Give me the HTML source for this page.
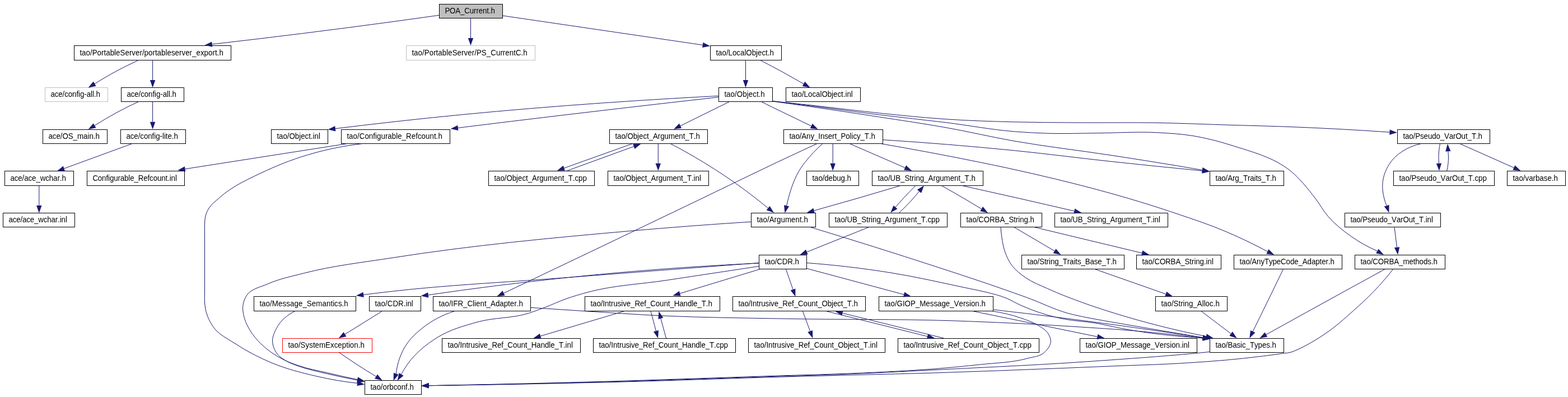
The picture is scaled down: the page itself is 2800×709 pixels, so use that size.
<!DOCTYPE html>
<html><head><meta charset="utf-8"><title>POA_Current.h include graph</title>
<style>html,body{margin:0;padding:0;background:#fff}svg{display:block}text{font-family:"Liberation Sans",sans-serif;font-size:13.33px;fill:#000}.n,.g,.r,.o{shape-rendering:crispEdges}.e{fill:none;stroke:#191970;stroke-width:1}.a{fill:#191970;stroke:none}.n{fill:#fff;stroke:#000;stroke-width:1}.g{fill:#fff;stroke:#bfbfbf;stroke-width:1}.r{fill:#fff;stroke:#f00;stroke-width:1}.o{fill:#bfbfbf;stroke:#000;stroke-width:1}</style></head><body>
<svg width="2800" height="709" viewBox="0 0 2800 709" style="will-change:transform">
<rect width="2800" height="709" fill="#fff"/>
<rect class="o" x="784.5" y="7.5" width="113.0" height="25.0"/>
<text transform="matrix(1 0 0 1.08 0 24)" x="794.4 803.1 813.3 822 829.3 838.7 846 850.4 854.7 862 869.3 872.9 876.5">POA_Current.h</text>
<rect class="n" x="132.5" y="81.5" width="280.0" height="26.0"/>
<text transform="matrix(1 0 0 1.08 0 99)" x="142.4 146.1 153.6 161 164.7 173.6 181.1 185.5 189.2 196.7 204.1 207.1 214.5 223.4 230.9 235.3 242 249.4 253.9 257.6 265 272.5 276.9 280.6 288.1 295.5 298.5 305.9 312.6 320 324.5 331.2 338.6 343.1 350.5 357.9 364.6 372 379.5 383.9 387.6 391.4">tao/PortableServer/portableserver_export.h</text>
<rect class="g" x="725.5" y="81.5" width="230.0" height="26.0"/>
<text transform="matrix(1 0 0 1.08 0 99)" x="735.4 739.1 746.6 754 757.8 766.7 774.2 778.6 782.3 789.8 797.3 800.2 807.7 816.6 824.1 828.6 835.3 842.7 847.2 850.9 859.8 868.8 876.2 885.9 893.4 897.8 902.3 909.8 917.2 920.9 930.6 934.3">tao/PortableServer/PS_CurrentC.h</text>
<rect class="n" x="1268.5" y="81.5" width="127.0" height="26.0"/>
<text transform="matrix(1 0 0 1.08 0 99)" x="1278.4 1282.1 1289.5 1296.9 1300.6 1307.9 1315.3 1322 1329.4 1332.3 1342.7 1350 1353 1360.4 1367 1370.7 1374.4">tao/LocalObject.h</text>
<rect class="g" x="80.5" y="156.5" width="112.0" height="25.0"/>
<text transform="matrix(1 0 0 1.08 0 173)" x="90.4 97.7 104.3 111.6 115.2 121.8 129.1 136.4 140.1 143 150.3 154.7 162 164.9 167.8 171.5">ace/config-all.h</text>
<rect class="n" x="216.5" y="156.5" width="112.0" height="25.0"/>
<text transform="matrix(1 0 0 1.08 0 173)" x="226.4 233.7 240.3 247.6 251.2 257.8 265.1 272.4 276.1 279 286.3 290.7 298 300.9 303.8 307.5">ace/config-all.h</text>
<rect class="n" x="1283.5" y="156.5" width="96.0" height="25.0"/>
<text transform="matrix(1 0 0 1.08 0 173)" x="1293.4 1297.1 1304.6 1312.1 1315.8 1326.2 1333.7 1336.7 1344.2 1350.9 1354.6 1358.3">tao/Object.h</text>
<rect class="n" x="1403.5" y="156.5" width="133.0" height="25.0"/>
<text transform="matrix(1 0 0 1.08 0 173)" x="1413.4 1417.1 1424.5 1431.9 1435.6 1443 1450.4 1457 1464.4 1467.4 1477.7 1485.1 1488.1 1495.5 1502.1 1505.8 1509.5 1512.5 1519.8">tao/LocalObject.inl</text>
<rect class="n" x="76.5" y="231.5" width="115.0" height="25.0"/>
<text transform="matrix(1 0 0 1.08 0 248)" x="86.4 93.8 100.4 107.8 111.5 121.8 130.6 138 149 156.4 159.4 166.7 170.4">ace/OS_main.h</text>
<rect class="n" x="215.5" y="231.5" width="116.0" height="25.0"/>
<text transform="matrix(1 0 0 1.08 0 248)" x="225.4 232.7 239.3 246.7 250.3 256.9 264.3 271.6 275.3 278.2 285.5 289.9 292.9 295.8 299.5 306.8 310.5">ace/config-lite.h</text>
<rect class="n" x="484.5" y="231.5" width="101.0" height="25.0"/>
<text transform="matrix(1 0 0 1.08 0 248)" x="494.4 498.1 505.5 512.8 516.5 526.8 534.2 537.2 544.5 551.2 554.8 558.5 561.5 568.9">tao/Object.inl</text>
<rect class="n" x="609.5" y="231.5" width="194.0" height="25.0"/>
<text transform="matrix(1 0 0 1.08 0 248)" x="619.4 623.1 630.6 638 641.7 651.4 658.8 666.3 670 673 680.4 687.9 692.3 699.8 707.2 710.2 717.6 725.1 734.7 742.2 745.9 752.6 760 767.5 774.9 778.6 782.4">tao/Configurable_Refcount.h</text>
<rect class="n" x="1088.5" y="231.5" width="175.0" height="25.0"/>
<text transform="matrix(1 0 0 1.08 0 248)" x="1098.4 1102.1 1109.4 1116.8 1120.5 1130.7 1138.1 1141 1148.4 1155 1158.7 1166 1174.8 1179.2 1186.6 1193.9 1205 1212.3 1219.7 1223.3 1230.7 1238.8 1242.4">tao/Object_Argument_T.h</text>
<rect class="n" x="1399.5" y="231.5" width="177.0" height="25.0"/>
<text transform="matrix(1 0 0 1.08 0 248)" x="1409.4 1413.1 1420.4 1427.7 1431.3 1440.1 1447.4 1454 1461.3 1464.9 1472.2 1478.8 1486.1 1490.5 1494.1 1501.4 1510.2 1517.5 1520.4 1523.4 1529.9 1536.5 1543.8 1551.8 1555.5">tao/Any_Insert_Policy_T.h</text>
<rect class="n" x="2495.5" y="231.5" width="165.0" height="25.0"/>
<text transform="matrix(1 0 0 1.08 0 248)" x="2505.4 2509 2516.3 2523.6 2527.3 2536 2542.6 2549.9 2557.2 2564.4 2571.7 2579 2587.8 2595.1 2599.4 2609.6 2616.9 2620.6 2627.9 2635.9 2639.5">tao/Pseudo_VarOut_T.h</text>
<rect class="n" x="8.5" y="305.5" width="123.0" height="26.0"/>
<text transform="matrix(1 0 0 1.08 0 323)" x="18.4 25.7 32.3 39.6 43.3 50.6 57.1 64.5 71.8 81.3 87.8 95.1 102.5 106.8 110.5">ace/ace_wchar.h</text>
<rect class="n" x="155.5" y="305.5" width="174.0" height="26.0"/>
<text transform="matrix(1 0 0 1.08 0 323)" x="165.4 174.8 182.1 189.4 193 195.9 203.2 210.4 214.8 222.1 229.3 232.2 239.5 246.8 256.2 263.5 267.1 273.7 280.9 288.2 295.5 299.1 302.7 305.6 312.9">Configurable_Refcount.inl</text>
<rect class="n" x="872.5" y="305.5" width="189.0" height="26.0"/>
<text transform="matrix(1 0 0 1.08 0 323)" x="882.4 886.1 893.4 900.8 904.5 914.7 922.1 925 932.4 939 942.7 950 958.9 963.3 970.6 978 989 996.3 1003.7 1007.4 1014.7 1022.8 1026.5 1033.1 1040.4">tao/Object_Argument_T.cpp</text>
<rect class="n" x="1085.5" y="305.5" width="180.0" height="26.0"/>
<text transform="matrix(1 0 0 1.08 0 323)" x="1095.4 1099.1 1106.4 1113.7 1117.3 1127.6 1134.9 1137.8 1145.1 1151.7 1155.3 1162.6 1171.4 1175.8 1183.1 1190.4 1201.4 1208.7 1216 1219.6 1227 1235 1238.6 1241.6 1248.9">tao/Object_Argument_T.inl</text>
<rect class="n" x="1440.5" y="305.5" width="93.0" height="26.0"/>
<text transform="matrix(1 0 0 1.08 0 323)" x="1450.4 1454 1461.4 1468.7 1472.3 1479.6 1486.9 1494.2 1501.5 1508.8 1512.5">tao/debug.h</text>
<rect class="n" x="1557.5" y="305.5" width="198.0" height="26.0"/>
<text transform="matrix(1 0 0 1.08 0 323)" x="1567.4 1571.1 1578.5 1585.9 1589.6 1599.2 1608 1615.4 1624.3 1628 1632.4 1635.4 1642.8 1650.2 1657.6 1666.4 1670.9 1678.2 1685.6 1696.7 1704.1 1711.5 1715.2 1722.6 1730.7 1734.4">tao/UB_String_Argument_T.h</text>
<rect class="n" x="2160.5" y="305.5" width="132.0" height="26.0"/>
<text transform="matrix(1 0 0 1.08 0 323)" x="2170.4 2174 2181.3 2188.6 2192.2 2201 2205.3 2212.6 2219.9 2227.9 2232.2 2239.5 2242.4 2246.1 2252.6 2259.9 2267.9 2271.5">tao/Arg_Traits_T.h</text>
<rect class="n" x="2488.5" y="305.5" width="180.0" height="26.0"/>
<text transform="matrix(1 0 0 1.08 0 323)" x="2498.4 2502.1 2509.4 2516.8 2520.4 2529.2 2535.8 2543.2 2550.5 2557.9 2565.2 2572.6 2581.4 2588.7 2593.1 2603.4 2610.8 2614.4 2621.8 2629.8 2633.5 2640.1 2647.5">tao/Pseudo_VarOut_T.cpp</text>
<rect class="n" x="2691.5" y="305.5" width="104.0" height="26.0"/>
<text transform="matrix(1 0 0 1.08 0 323)" x="2701.4 2705.1 2712.5 2719.8 2723.5 2730.2 2737.5 2742 2749.3 2756.7 2763.4 2770.7 2774.4">tao/varbase.h</text>
<rect class="n" x="5.5" y="380.5" width="128.0" height="25.0"/>
<text transform="matrix(1 0 0 1.08 0 397)" x="15.4 22.7 29.2 36.4 40.1 47.3 53.8 61.1 68.3 77.8 84.3 91.5 98.8 103.1 106.8 109.6 116.9">ace/ace_wchar.inl</text>
<rect class="n" x="1341.5" y="380.5" width="115.0" height="25.0"/>
<text transform="matrix(1 0 0 1.08 0 397)" x="1351.4 1355.1 1362.5 1370 1373.7 1382.6 1387.1 1394.5 1401.9 1413.1 1420.5 1427.9 1431.7 1435.4">tao/Argument.h</text>
<rect class="n" x="1480.5" y="380.5" width="211.0" height="25.0"/>
<text transform="matrix(1 0 0 1.08 0 397)" x="1490.4 1494.1 1501.4 1508.8 1512.5 1522 1530.8 1538.2 1547 1550.7 1555.1 1558 1565.4 1572.7 1580.1 1588.9 1593.3 1600.6 1608 1619 1626.4 1633.7 1637.4 1644.7 1652.8 1656.5 1663.1 1670.4">tao/UB_String_Argument_T.cpp</text>
<rect class="n" x="1715.5" y="380.5" width="145.0" height="25.0"/>
<text transform="matrix(1 0 0 1.08 0 397)" x="1725.4 1729.1 1736.4 1743.7 1747.3 1756.8 1767.1 1776.6 1785.4 1794.1 1801.5 1810.2 1813.9 1818.3 1821.2 1828.5 1835.8 1839.5">tao/CORBA_String.h</text>
<rect class="n" x="1883.5" y="380.5" width="202.0" height="25.0"/>
<text transform="matrix(1 0 0 1.08 0 397)" x="1893.4 1897.1 1904.4 1911.7 1915.3 1924.8 1933.6 1940.9 1949.7 1953.4 1957.7 1960.7 1968 1975.3 1982.6 1991.4 1995.8 2003.1 2010.4 2021.3 2028.7 2036 2039.6 2047 2055 2058.6 2061.6 2068.9">tao/UB_String_Argument_T.inl</text>
<rect class="n" x="2401.5" y="380.5" width="171.0" height="25.0"/>
<text transform="matrix(1 0 0 1.08 0 397)" x="2411.4 2415 2422.3 2429.6 2433.3 2442.1 2448.6 2455.9 2463.2 2470.5 2477.8 2485.1 2493.9 2501.2 2505.5 2515.8 2523.1 2526.7 2534 2542 2545.7 2548.6 2555.9">tao/Pseudo_VarOut_T.inl</text>
<rect class="n" x="1355.5" y="455.5" width="85.0" height="25.0"/>
<text transform="matrix(1 0 0 1.08 0 472)" x="1365.4 1369.1 1376.4 1383.7 1387.3 1396.8 1406.3 1415.8 1419.5">tao/CDR.h</text>
<rect class="n" x="1824.5" y="455.5" width="183.0" height="25.0"/>
<text transform="matrix(1 0 0 1.08 0 472)" x="1834.4 1838 1845.3 1852.6 1856.2 1865 1868.6 1873 1875.9 1883.2 1890.4 1897.7 1905.7 1910.1 1917.4 1920.3 1923.9 1930.5 1937.8 1946.5 1953.8 1960.3 1967.6 1974.9 1982.9 1986.5">tao/String_Traits_Base_T.h</text>
<rect class="n" x="2029.5" y="455.5" width="151.0" height="25.0"/>
<text transform="matrix(1 0 0 1.08 0 472)" x="2039.4 2043.1 2050.4 2057.7 2061.4 2070.9 2081.1 2090.6 2099.4 2108.2 2115.5 2124.3 2128 2132.4 2135.3 2142.6 2150 2153.6 2156.5 2163.9">tao/CORBA_String.inl</text>
<rect class="n" x="2203.5" y="455.5" width="193.0" height="25.0"/>
<text transform="matrix(1 0 0 1.08 0 472)" x="2213.4 2217 2224.4 2231.7 2235.3 2244.1 2251.4 2257.9 2266 2272.5 2279.8 2287.1 2296.6 2303.9 2311.2 2318.5 2325.8 2334.6 2341.9 2349.2 2356.5 2360.2 2367.5 2371.8 2375.5">tao/AnyTypeCode_Adapter.h</text>
<rect class="n" x="2419.5" y="455.5" width="161.0" height="25.0"/>
<text transform="matrix(1 0 0 1.08 0 472)" x="2429.4 2433.1 2440.4 2447.7 2451.3 2460.8 2471.1 2480.6 2489.3 2498.1 2505.4 2516.4 2523.7 2527.3 2534.6 2541.9 2549.3 2555.8 2559.5">tao/CORBA_methods.h</text>
<rect class="n" x="453.5" y="529.5" width="182.0" height="26.0"/>
<text transform="matrix(1 0 0 1.08 0 547)" x="463.4 467.1 474.6 482.1 485.8 497 504.5 511.2 517.9 525.4 532.9 540.4 547.8 556.8 564.3 575.5 583 590.4 594.2 597.1 603.9 610.6 614.3">tao/Message_Semantics.h</text>
<rect class="n" x="659.5" y="529.5" width="92.0" height="26.0"/>
<text transform="matrix(1 0 0 1.08 0 547)" x="669.4 673.1 680.6 688 691.7 701.4 711 720.7 724.4 727.4 734.8">tao/CDR.inl</text>
<rect class="n" x="773.5" y="529.5" width="174.0" height="26.0"/>
<text transform="matrix(1 0 0 1.08 0 547)" x="783.4 787.1 794.5 801.9 805.6 809.3 817.5 827.1 834.5 844.1 847.1 850.1 857.5 864.9 868.6 876 884.9 892.3 899.7 907.1 910.8 918.2 922.7 926.4">tao/IFR_Client_Adapter.h</text>
<rect class="n" x="1044.5" y="529.5" width="241.0" height="26.0"/>
<text transform="matrix(1 0 0 1.08 0 547)" x="1054.4 1058.1 1065.4 1072.7 1076.4 1080 1087.3 1091 1095.4 1102.7 1109.3 1112.2 1118.8 1126.1 1133.5 1143 1150.3 1153.9 1161.3 1170.8 1178.1 1185.4 1192.7 1196.4 1203.7 1213.2 1220.6 1227.9 1235.2 1238.1 1245.5 1252.8 1260.8 1264.5">tao/Intrusive_Ref_Count_Handle_T.h</text>
<rect class="n" x="1308.5" y="529.5" width="237.0" height="26.0"/>
<text transform="matrix(1 0 0 1.08 0 547)" x="1318.4 1322.1 1329.4 1336.7 1340.3 1344 1351.3 1354.9 1359.3 1366.6 1373.2 1376.1 1382.7 1390 1397.3 1406.8 1414.1 1417.8 1425.1 1434.6 1441.9 1449.2 1456.5 1460.2 1467.5 1477.7 1485 1488 1495.3 1501.8 1505.5 1512.8 1520.8 1524.5">tao/Intrusive_Ref_Count_Object_T.h</text>
<rect class="n" x="1569.5" y="529.5" width="204.0" height="26.0"/>
<text transform="matrix(1 0 0 1.08 0 547)" x="1579.4 1583.1 1590.5 1597.9 1601.6 1611.9 1615.6 1626 1634.8 1642.2 1653.3 1660.7 1667.4 1674 1681.4 1688.8 1696.2 1703.6 1712.5 1719.9 1724.3 1731 1733.9 1741.3 1748.7 1752.4">tao/GIOP_Message_Version.h</text>
<rect class="n" x="2063.5" y="529.5" width="128.0" height="26.0"/>
<text transform="matrix(1 0 0 1.08 0 547)" x="2073.4 2077.1 2084.5 2091.9 2095.6 2104.5 2108.2 2112.6 2115.6 2123 2130.4 2137.8 2146.7 2149.7 2152.6 2160 2166.7 2170.4">tao/String_Alloc.h</text>
<rect class="r" x="504.5" y="604.5" width="160.0" height="25.0"/>
<text transform="matrix(1 0 0 1.08 0 621)" x="514.4 518.1 525.5 532.9 536.6 545.5 552.2 558.9 562.6 570 581.1 590 596.7 603.3 610.8 618.2 621.9 624.8 632.3 639.7 643.4">tao/SystemException.h</text>
<rect class="n" x="789.5" y="604.5" width="247.0" height="25.0"/>
<text transform="matrix(1 0 0 1.08 0 621)" x="799.4 803.1 810.4 817.7 821.4 825 832.4 836 840.4 847.7 854.3 857.3 863.8 871.2 878.5 888 895.3 899 906.3 915.9 923.2 930.5 937.8 941.5 948.8 958.3 965.7 973 980.3 983.3 990.6 997.9 1006 1009.6 1012.5 1019.9">tao/Intrusive_Ref_Count_Handle_T.inl</text>
<rect class="n" x="1059.5" y="604.5" width="254.0" height="25.0"/>
<text transform="matrix(1 0 0 1.08 0 621)" x="1069.4 1073 1080.3 1087.6 1091.3 1094.9 1102.2 1105.9 1110.2 1117.5 1124.1 1127 1133.6 1140.8 1148.1 1157.6 1164.9 1168.6 1175.8 1185.3 1192.6 1199.9 1207.2 1210.8 1218.1 1227.6 1234.9 1242.2 1249.5 1252.4 1259.7 1267 1275 1278.7 1285.2 1292.5">tao/Intrusive_Ref_Count_Handle_T.cpp</text>
<rect class="n" x="1336.5" y="604.5" width="244.0" height="25.0"/>
<text transform="matrix(1 0 0 1.08 0 621)" x="1346.4 1350.1 1357.4 1364.8 1368.4 1372.1 1379.5 1383.1 1387.5 1394.9 1401.5 1404.4 1411 1418.4 1425.7 1435.3 1442.6 1446.3 1453.7 1463.2 1470.6 1477.9 1485.3 1488.9 1496.3 1506.6 1513.9 1516.8 1524.2 1530.8 1534.5 1541.8 1549.9 1553.6 1556.5 1563.9">tao/Intrusive_Ref_Count_Object_T.inl</text>
<rect class="n" x="1603.5" y="604.5" width="252.0" height="25.0"/>
<text transform="matrix(1 0 0 1.08 0 621)" x="1613.4 1617.1 1624.4 1631.8 1635.4 1639.1 1646.5 1650.1 1654.5 1661.9 1668.5 1671.4 1678 1685.4 1692.7 1702.3 1709.6 1713.3 1720.6 1730.2 1737.5 1744.9 1752.2 1755.9 1763.2 1773.5 1780.9 1783.8 1791.1 1797.7 1801.4 1808.8 1816.8 1820.5 1827.1 1834.5">tao/Intrusive_Ref_Count_Object_T.cpp</text>
<rect class="n" x="1928.5" y="604.5" width="209.0" height="25.0"/>
<text transform="matrix(1 0 0 1.08 0 621)" x="1938.4 1942.1 1949.4 1956.8 1960.5 1970.8 1974.4 1984.7 1993.6 2000.9 2012 2019.3 2025.9 2032.6 2039.9 2047.3 2054.6 2062 2070.8 2078.2 2082.6 2089.2 2092.2 2099.5 2106.9 2110.6 2113.5 2120.9">tao/GIOP_Message_Version.inl</text>
<rect class="n" x="2160.5" y="604.5" width="132.0" height="25.0"/>
<text transform="matrix(1 0 0 1.08 0 621)" x="2170.4 2174.1 2181.4 2188.7 2192.4 2201.2 2208.5 2215.1 2218 2224.6 2231.9 2240 2246.6 2253.9 2261.2 2267.8 2271.5">tao/Basic_Types.h</text>
<rect class="n" x="651.5" y="679.5" width="101.0" height="25.0"/>
<text transform="matrix(1 0 0 1.08 0 696)" x="661.4 665.1 672.5 679.8 683.5 690.9 695.3 702.7 709.3 716.7 724.1 727.7 731.4">tao/orbconf.h</text>
<path class="e" d="M784.2,27.2C756.1,31.2 728.1,35.1 700.0,38.9C593.1,53.4 486.0,66.8 378.7,79.0"/><polygon class="a" points="378.2,74.4 365.5,80.7 379.3,83.7"/>
<path class="e" d="M840.5,32.6L840.5,68.0"/><polygon class="a" points="835.8,68.0 840.5,81.3 845.2,68.0"/>
<path class="e" d="M897.8,28.0L1254.8,80.4"/><polygon class="a" points="1254.1,85.0 1268.0,82.3 1255.5,75.7"/>
<path class="e" d="M247.8,107.3C234.7,113.2 221.7,119.6 209.0,126.4C195.4,133.7 182.1,141.4 169.1,149.7"/><polygon class="a" points="166.8,145.6 157.6,156.4 171.5,153.7"/>
<path class="e" d="M272.6,107.3L272.6,143.1"/><polygon class="a" points="267.9,143.1 272.6,156.4 277.3,143.1"/>
<path class="e" d="M247.3,181.6C234.3,187.5 221.5,193.9 209.0,200.7C195.4,208.1 182.1,215.9 169.1,224.2"/><polygon class="a" points="166.7,220.2 157.6,231.0 171.5,228.2"/>
<path class="e" d="M272.6,181.6L272.6,217.7"/><polygon class="a" points="267.9,217.7 272.6,231.0 277.3,217.7"/>
<path class="e" d="M235.9,256.6L114.4,301.0"/><polygon class="a" points="112.8,296.6 101.9,305.6 116.0,305.4"/>
<path class="e" d="M69.8,331.3L69.8,367.1"/><polygon class="a" points="65.1,367.1 69.8,380.4 74.5,367.1"/>
<path class="e" d="M1331.5,107.3L1331.5,143.1"/><polygon class="a" points="1326.8,143.1 1331.5,156.4 1336.2,143.1"/>
<path class="e" d="M1357.0,107.3C1371.5,114.6 1385.8,122.2 1400.0,130.0C1411.8,136.5 1423.5,143.1 1435.1,149.8"/><polygon class="a" points="1432.8,153.9 1446.7,156.4 1437.4,145.8"/>
<path class="e" d="M1283.1,171.3C1255.4,172.7 1227.7,174.3 1200.0,175.9C1033.0,185.8 866.2,199.1 700.0,217.8C666.3,221.6 632.5,225.6 598.8,229.7"/><polygon class="a" points="598.3,225.1 585.6,231.3 599.4,234.4"/>
<path class="e" d="M1283.1,173.5C1255.4,176.6 1227.7,179.7 1200.0,182.9C1072.5,197.5 945.2,212.6 817.8,228.4"/><polygon class="a" points="817.3,223.8 804.6,230.0 818.4,233.1"/>
<path class="e" d="M1302.7,181.5L1215.0,224.8"/><polygon class="a" points="1212.9,220.6 1203.0,230.7 1217.0,229.0"/>
<path class="e" d="M1359.5,181.5C1363.0,183.3 1366.5,185.1 1370.0,186.9C1379.9,191.9 1390.0,196.6 1400.0,201.5C1416.2,209.4 1432.4,217.2 1448.7,225.0"/><polygon class="a" points="1446.7,229.2 1460.7,230.8 1450.7,220.8"/>
<path class="e" d="M1379.8,180.5C1403.2,183.0 1426.6,185.5 1450.0,188.1C1489.8,192.5 1529.5,197.8 1569.4,201.9C1609.2,206.0 1649.1,210.2 1689.0,212.8C1729.3,215.5 1769.6,216.8 1810.0,217.8C1846.6,218.7 1883.1,218.7 1919.7,219.0C1968.8,219.4 2017.9,218.5 2067.0,219.3C2111.3,220.1 2155.7,222.1 2200.0,223.4C2230.0,224.3 2260.0,224.9 2290.0,226.0C2353.9,228.3 2417.7,231.7 2481.5,236.1"/><polygon class="a" points="2481.2,240.8 2494.8,236.8 2481.7,231.4"/>
<path class="e" d="M1379.8,180.7C1403.2,183.5 1426.6,186.4 1450.0,189.3C1489.8,194.3 1529.6,200.0 1569.4,204.9C1609.2,209.8 1649.2,213.9 1689.0,218.8C1729.4,223.8 1769.4,231.5 1810.0,234.8C1832.3,236.6 1854.6,237.7 1877.0,238.3C1904.7,239.0 1932.3,237.9 1960.0,237.7C1995.7,237.4 2031.4,234.9 2067.0,236.8C2088.4,238.0 2109.9,239.2 2131.0,242.7C2154.4,246.6 2177.4,252.6 2200.0,259.8C2235.9,271.2 2274.4,281.1 2303.8,304.7C2321.1,318.6 2335.0,336.5 2348.6,354.0C2356.8,364.5 2362.9,376.6 2371.7,386.6C2383.5,400.2 2397.8,411.6 2412.5,422.0C2427.2,432.3 2443.0,441.2 2459.4,448.4"/><polygon class="a" points="2457.1,452.5 2471.0,455.0 2461.7,444.4"/>
<path class="e" d="M1379.8,181.0C1403.2,184.2 1426.6,187.4 1450.0,190.8C1489.8,196.5 1529.6,202.6 1569.4,208.8C1609.3,215.0 1649.3,220.7 1689.0,227.8C1729.5,235.0 1769.5,244.5 1810.0,251.7C1867.7,261.9 1926.1,268.4 1984.0,277.3C2022.7,283.3 2061.4,289.2 2100.0,295.7C2115.6,298.3 2131.2,301.0 2146.9,303.7"/><polygon class="a" points="2146.1,308.3 2160.0,306.0 2147.6,299.1"/>
<path class="e" d="M619.6,256.6L330.6,301.8"/><polygon class="a" points="329.9,297.2 317.4,303.9 331.3,306.4"/>
<path class="e" d="M646.7,256.6C587.8,263.4 529.2,279.6 475.5,304.7C446.1,318.4 415.3,331.8 391.3,353.6C384.6,359.7 376.8,365.1 372.3,373.0C369.6,377.7 367.6,382.8 366.5,388.0C365.7,391.9 365.7,396.0 365.5,400.0C365.2,406.7 365.5,413.3 365.5,420.0C365.5,436.7 365.5,453.3 365.5,470.0C365.5,486.7 365.5,503.3 365.5,520.0C365.5,526.7 365.0,533.4 365.5,540.0C365.8,544.0 366.2,548.0 367.0,552.0C369.4,564.1 374.8,575.8 382.2,585.6C391.7,598.1 406.9,605.1 420.0,613.7C440.2,626.9 461.7,638.2 483.9,647.5C510.2,658.6 538.2,665.7 566.0,672.1C589.8,677.6 613.8,681.7 638.1,684.4"/><polygon class="a" points="637.3,689.0 651.2,686.7 638.8,679.8"/>
<path class="e" d="M1129.3,256.6L1007.4,300.2"/><polygon class="a" points="1005.8,295.8 994.8,304.7 1008.9,304.6"/>
<path class="e" d="M1012.5,305.0L1131.8,261.6"/><polygon class="a" points="1133.4,265.9 1144.3,257.0 1130.2,257.2"/>
<path class="e" d="M1175.3,256.6L1175.3,291.7"/><polygon class="a" points="1170.6,291.7 1175.3,305.0 1180.0,291.7"/>
<path class="e" d="M1197.3,256.6C1250.8,284.4 1301.9,317.0 1349.5,354.0C1356.9,359.8 1364.3,365.7 1371.6,371.7"/><polygon class="a" points="1368.7,375.3 1382.0,380.0 1374.5,368.0"/>
<path class="e" d="M1458.7,256.7C1435.1,267.6 1411.5,278.5 1388.0,289.6C1343.2,310.7 1298.9,332.6 1254.3,354.0C1136.2,410.8 1017.9,467.3 899.5,523.6"/><polygon class="a" points="897.5,519.3 887.5,529.3 901.5,527.8"/>
<path class="e" d="M1468.7,256.7C1457.5,266.7 1447.1,277.7 1437.8,289.6C1435.1,293.0 1432.5,296.4 1430.1,300.0C1424.3,308.7 1420.0,318.3 1416.1,328.0C1412.8,336.3 1410.3,345.0 1408.0,353.6C1406.8,358.2 1405.6,362.8 1404.6,367.5"/><polygon class="a" points="1400.1,366.3 1401.4,380.4 1409.1,368.6"/>
<path class="e" d="M1487.2,256.6L1487.2,291.7"/><polygon class="a" points="1482.5,291.7 1487.2,305.0 1491.9,291.7"/>
<path class="e" d="M1517.5,256.7C1542.8,267.6 1568.1,278.6 1593.3,289.6C1600.9,292.9 1608.5,296.2 1616.1,299.6"/><polygon class="a" points="1614.2,303.8 1628.3,304.9 1618.0,295.3"/>
<path class="e" d="M1573.4,256.7C1632.0,266.7 1690.5,277.7 1748.8,289.6C1765.9,293.1 1783.0,296.6 1800.0,300.3C1828.3,306.4 1856.6,312.9 1884.7,319.7C1928.0,330.2 1971.2,341.4 2014.0,354.0C2042.8,362.5 2071.5,371.5 2100.0,381.2C2130.1,391.4 2160.4,401.3 2189.7,413.8C2214.7,424.5 2239.3,436.3 2263.3,449.2"/><polygon class="a" points="2261.3,453.4 2275.3,455.0 2265.3,445.0"/>
<path class="e" d="M1576.7,249.7C1654.6,254.6 1732.4,261.0 1810.0,268.7C1868.1,274.5 1926.0,282.2 1984.0,288.4C2038.2,294.2 2092.5,299.8 2146.7,305.0"/><polygon class="a" points="2146.3,309.7 2160.0,306.4 2147.2,300.4"/>
<path class="e" d="M1608.0,331.5C1582.6,339.1 1557.2,346.6 1531.8,354.0C1505.8,361.5 1479.7,368.9 1453.6,376.2"/><polygon class="a" points="1452.4,371.7 1440.8,379.8 1454.9,380.7"/>
<path class="e" d="M1635.0,331.5C1627.6,338.8 1620.3,346.3 1613.3,354.0C1608.5,359.3 1603.7,364.6 1599.1,370.0"/><polygon class="a" points="1595.6,366.9 1590.2,380.0 1602.5,373.1"/>
<path class="e" d="M1605.2,380.4C1614.2,372.0 1622.9,363.2 1631.0,354.0C1634.6,350.0 1638.0,345.9 1641.4,341.7"/><polygon class="a" points="1645.0,344.7 1650.0,331.5 1637.8,338.7"/>
<path class="e" d="M1681.3,331.5C1694.5,338.8 1707.7,346.4 1720.7,354.0C1731.4,360.3 1742.1,366.7 1752.7,373.1"/><polygon class="a" points="1750.3,377.2 1764.1,380.0 1755.1,369.1"/>
<path class="e" d="M1718.0,331.5C1751.5,338.9 1785.0,346.4 1818.5,354.0C1851.8,361.6 1885.1,369.2 1918.3,377.0"/><polygon class="a" points="1917.3,381.6 1931.3,380.0 1919.4,372.5"/>
<path class="e" d="M1552.2,405.4L1440.9,450.0"/><polygon class="a" points="1439.1,445.7 1428.5,455.0 1442.6,454.4"/>
<path class="e" d="M1341.3,396.1C1271.5,400.5 1201.7,405.8 1132.0,411.9C987.6,424.5 843.1,438.0 700.0,460.5C647.7,468.7 594.8,474.4 543.5,487.7C521.6,493.4 499.0,497.8 478.3,507.0C465.1,512.9 447.9,515.7 440.2,528.0C437.1,533.0 434.9,538.8 434.0,544.7C432.7,552.8 434.5,561.3 436.8,569.2C438.9,576.6 442.6,583.4 446.5,590.0C451.7,598.7 458.4,606.5 465.6,613.7C476.7,624.8 490.0,633.8 503.9,641.1C513.2,646.0 523.2,649.6 533.1,653.0C549.7,658.7 567.1,661.7 584.2,665.7C602.1,669.9 620.1,674.0 638.2,677.8"/><polygon class="a" points="637.2,682.3 651.2,680.7 639.2,673.2"/>
<path class="e" d="M1446.2,405.4C1521.6,428.2 1596.8,451.9 1671.7,476.3C1701.2,485.9 1730.7,495.5 1760.0,505.5C1784.6,513.9 1809.2,522.4 1833.6,531.3C1858.3,540.3 1881.9,552.4 1907.2,559.5C1924.5,564.3 1942.3,567.3 1960.0,570.7C1973.3,573.2 1986.7,575.4 2000.0,577.7C2049.2,586.3 2098.5,594.6 2147.9,602.8"/><polygon class="a" points="2147.1,607.4 2161.0,605.0 2148.6,598.2"/>
<path class="e" d="M1810.3,405.4L1883.1,448.2"/><polygon class="a" points="1880.7,452.3 1894.6,455.0 1885.5,444.2"/>
<path class="e" d="M1845.7,405.4L2039.2,451.9"/><polygon class="a" points="2038.1,456.4 2052.2,455.0 2040.3,447.3"/>
<path class="e" d="M1787.0,405.4C1787.4,411.8 1788.0,418.2 1789.0,424.5C1790.3,432.8 1791.6,441.2 1794.4,449.1C1797.4,457.7 1801.2,466.2 1806.6,473.6C1813.1,482.5 1822.2,489.3 1831.2,495.7C1843.1,504.1 1857.1,509.2 1870.4,515.3C1890.4,524.5 1911.1,532.3 1931.8,539.9C1951.2,547.0 1970.9,553.4 1990.7,559.5C2044.2,576.1 2098.8,589.9 2153.8,600.7"/><polygon class="a" points="2152.6,605.3 2166.7,604.0 2154.9,596.2"/>
<path class="e" d="M1954.3,480.4L2081.7,525.1"/><polygon class="a" points="2080.2,529.5 2094.3,529.5 2083.3,520.7"/>
<path class="e" d="M2145.0,555.7L2198.1,595.9"/><polygon class="a" points="2195.3,599.7 2208.7,604.0 2200.9,592.2"/>
<path class="e" d="M2291.6,480.4C2285.3,493.6 2278.9,506.8 2272.5,520.0C2260.8,544.1 2249.0,568.1 2237.2,592.0"/><polygon class="a" points="2233.0,590.0 2231.3,604.0 2241.4,594.1"/>
<path class="e" d="M2473.6,480.4C2449.5,493.6 2425.5,506.8 2401.4,520.0C2354.5,545.8 2307.7,571.6 2261.0,597.6"/><polygon class="a" points="2258.7,593.5 2249.3,604.0 2263.2,601.6"/>
<path class="e" d="M2488.0,480.4C2477.2,494.1 2465.7,507.4 2453.6,520.0C2440.1,534.1 2425.6,547.1 2411.0,560.0C2402.6,567.5 2394.2,575.1 2385.3,582.1C2375.3,590.0 2364.8,597.4 2354.0,604.2C2346.2,609.1 2338.2,613.8 2330.0,618.0C2324.1,621.0 2318.2,624.1 2312.0,626.5C2309.4,627.5 2306.7,628.7 2304.0,629.4C2300.5,630.3 2296.9,630.4 2293.3,630.9C2268.8,634.3 2244.3,637.5 2219.7,640.1C2179.9,644.3 2140.0,647.0 2100.0,649.3C2066.7,651.2 2033.3,652.0 2000.0,653.3C1966.7,654.7 1933.3,656.1 1900.0,657.4C1822.3,660.5 1744.7,663.6 1667.0,666.0C1611.3,667.7 1555.7,668.8 1500.0,670.3C1466.7,671.2 1433.3,672.1 1400.0,673.0C1300.0,675.8 1200.0,679.8 1100.0,682.3C988.6,685.1 877.2,687.3 765.7,688.7"/><polygon class="a" points="765.6,684.1 752.4,689.0 765.8,693.4"/>
<path class="e" d="M2537.5,256.6C2515.3,261.3 2492.3,274.5 2480.4,293.8C2474.3,303.6 2470.1,315.0 2469.0,326.5C2468.1,335.7 2469.4,345.1 2471.7,354.0C2472.8,358.6 2474.3,363.0 2476.2,367.4"/><polygon class="a" points="2471.7,368.8 2480.4,380.0 2480.6,365.9"/>
<path class="e" d="M2571.5,256.6C2569.9,264.3 2569.1,272.2 2569.0,280.0C2569.0,283.9 2569.1,287.8 2569.5,291.7"/><polygon class="a" points="2564.8,291.9 2570.0,305.0 2574.1,291.5"/>
<path class="e" d="M2583.7,305.0C2585.7,296.8 2586.6,288.4 2586.5,280.0C2586.4,276.8 2586.2,273.5 2585.9,270.3"/><polygon class="a" points="2590.5,270.0 2585.0,257.0 2581.2,270.6"/>
<path class="e" d="M2606.8,256.6L2703.3,299.5"/><polygon class="a" points="2701.4,303.8 2715.5,304.9 2705.2,295.2"/>
<path class="e" d="M2490.0,405.4L2494.5,441.8"/><polygon class="a" points="2489.9,442.3 2496.2,455.0 2499.2,441.2"/>
<path class="e" d="M1355.4,469.5C1236.6,478.4 1117.8,487.5 999.0,496.7C899.3,504.4 799.3,509.0 700.0,520.3C683.0,522.2 666.1,524.3 649.1,526.4"/><polygon class="a" points="648.6,521.8 635.9,528.0 649.7,531.0"/>
<path class="e" d="M1355.4,470.0C1236.4,475.5 1117.5,484.6 999.0,497.2C920.8,505.5 842.7,515.4 764.8,526.8"/><polygon class="a" points="764.2,522.2 751.6,528.5 765.4,531.5"/>
<path class="e" d="M1355.4,475.5C1299.9,483.9 1244.5,492.3 1189.0,500.7C1143.0,507.6 1095.9,509.5 1051.0,521.5C1037.2,525.2 1023.5,529.2 1010.0,534.0C997.5,538.5 985.5,544.3 973.0,549.0C962.7,552.9 952.5,556.8 942.0,560.0C913.2,568.7 882.0,566.9 853.0,575.0C828.6,581.8 803.6,588.8 782.0,602.0C761.1,614.8 741.4,631.0 727.3,651.0C723.4,656.6 719.8,662.4 716.6,668.4"/><polygon class="a" points="712.6,666.0 709.6,679.8 720.6,670.9"/>
<path class="e" d="M1356.0,481.0L1214.2,524.1"/><polygon class="a" points="1212.8,519.7 1201.4,528.0 1215.5,528.6"/>
<path class="e" d="M1403.3,480.4L1416.0,516.9"/><polygon class="a" points="1411.6,518.4 1420.4,529.5 1420.4,515.4"/>
<path class="e" d="M1440.8,479.5L1614.1,526.0"/><polygon class="a" points="1612.9,530.5 1627.0,529.5 1615.3,521.5"/>
<path class="e" d="M1440.8,469.5C1490.7,473.2 1540.6,479.1 1590.0,487.0C1635.7,494.3 1680.7,504.8 1726.0,514.3C1737.3,516.7 1748.8,518.7 1760.0,521.5C1772.5,524.6 1785.1,527.6 1797.0,532.5C1805.4,535.9 1813.1,540.8 1821.3,544.5C1829.7,548.3 1838.3,551.8 1847.0,555.0C1863.0,560.8 1879.4,565.4 1896.0,569.0C1917.0,573.6 1938.8,573.8 1960.0,577.6C1973.4,580.0 1986.6,583.5 2000.0,586.0C2048.7,595.3 2098.2,601.1 2147.8,603.4"/><polygon class="a" points="2147.2,608.1 2161.0,605.0 2148.3,598.8"/>
<path class="e" d="M526.9,555.6C513.5,561.9 501.1,572.5 494.1,585.6C490.1,593.1 486.2,601.5 486.6,610.0C486.9,616.7 489.4,623.5 493.0,629.2C498.0,637.1 506.7,642.1 514.9,646.6C520.6,649.7 527.0,651.7 533.1,653.9C549.7,659.9 567.1,663.4 584.2,667.5C602.1,671.8 620.1,675.6 638.2,678.9"/><polygon class="a" points="637.2,683.5 651.2,681.7 639.1,674.4"/>
<path class="e" d="M682.5,555.6L616.0,597.0"/><polygon class="a" points="613.6,593.0 604.7,604.0 618.5,600.9"/>
<path class="e" d="M605.2,629.2C616.3,637.0 627.6,644.6 639.0,652.0C649.7,659.0 660.6,665.7 671.5,672.3"/><polygon class="a" points="669.0,676.3 682.8,679.4 674.0,668.4"/>
<path class="e" d="M812.0,555.6C791.4,561.9 771.5,572.1 754.6,585.6C744.5,593.6 734.7,602.4 727.3,613.0C716.2,628.8 709.4,648.1 707.3,667.3"/><polygon class="a" points="702.9,665.7 702.7,679.8 711.7,668.9"/>
<path class="e" d="M947.6,549.3C979.7,551.5 1011.9,553.6 1044.0,555.6C1089.5,558.5 1135.0,561.7 1180.5,563.8C1253.6,567.2 1326.8,567.8 1400.0,569.2C1500.0,571.1 1600.0,569.5 1700.0,572.8C1754.7,574.6 1809.4,577.0 1864.0,580.0C1896.0,581.8 1928.0,583.9 1960.0,586.0C1973.3,586.9 1986.7,587.7 2000.0,588.7C2049.4,592.4 2098.7,597.6 2147.7,604.1"/><polygon class="a" points="2147.3,608.8 2161.0,605.5 2148.2,599.5"/>
<path class="e" d="M1115.0,555.6L965.3,600.2"/><polygon class="a" points="963.9,595.7 952.5,604.0 966.6,604.7"/>
<path class="e" d="M1162.0,555.6L1171.5,591.1"/><polygon class="a" points="1167.0,592.3 1175.0,604.0 1176.0,589.9"/>
<path class="e" d="M1189.5,604.0L1179.9,568.9"/><polygon class="a" points="1184.4,567.6 1176.4,556.0 1175.4,570.1"/>
<path class="e" d="M1433.3,555.6L1446.7,591.5"/><polygon class="a" points="1442.3,593.1 1451.3,604.0 1451.0,589.9"/>
<path class="e" d="M1475.0,555.6L1656.1,600.8"/><polygon class="a" points="1654.9,605.3 1669.0,604.0 1657.2,596.2"/>
<path class="e" d="M1685.3,604.0L1504.4,559.2"/><polygon class="a" points="1505.6,554.7 1491.5,556.0 1503.3,563.7"/>
<path class="e" d="M1736.8,555.6L1959.4,601.3"/><polygon class="a" points="1958.5,605.9 1972.5,604.0 1960.4,596.7"/>
<path class="e" d="M1773.5,553.0C1849.1,561.5 1924.6,571.0 2000.0,581.4C2049.3,588.2 2098.6,595.4 2147.8,603.1"/><polygon class="a" points="2147.1,607.7 2161.0,605.0 2148.5,598.4"/>
<path class="e" d="M1771.0,555.6C1788.6,557.9 1806.0,562.1 1822.8,567.9C1832.8,571.4 1843.2,574.6 1852.2,580.2C1859.4,584.6 1867.6,588.8 1871.9,596.1C1874.1,599.9 1876.1,604.1 1876.3,608.4C1876.8,616.5 1870.5,624.3 1864.5,629.8C1856.7,637.0 1844.6,637.2 1834.4,640.1C1807.4,647.7 1778.7,647.9 1750.8,651.0C1723.0,654.1 1695.1,656.7 1667.2,658.9C1639.4,661.1 1611.5,662.5 1583.6,664.0C1555.7,665.5 1527.9,666.6 1500.0,667.7C1466.7,669.0 1433.3,669.7 1400.0,670.7C1300.0,673.8 1200.0,677.8 1100.0,680.7C988.6,683.9 877.2,686.6 765.7,688.7"/><polygon class="a" points="765.6,684.0 752.4,689.0 765.8,693.3"/>
<path class="e" d="M2160.3,628.4C2140.2,630.4 2120.1,632.3 2100.0,634.0C2066.7,636.9 2033.3,639.3 2000.0,641.7C1966.7,644.1 1933.3,646.4 1900.0,648.5C1833.4,652.7 1766.7,655.6 1700.0,659.0C1633.3,662.3 1566.7,666.2 1500.0,668.6C1466.7,669.8 1433.3,670.7 1400.0,671.7C1300.0,674.8 1200.0,678.8 1100.0,681.5C988.6,684.6 877.2,687.0 765.7,688.7"/><polygon class="a" points="765.6,684.0 752.4,689.0 765.8,693.4"/>
</svg></body></html>
